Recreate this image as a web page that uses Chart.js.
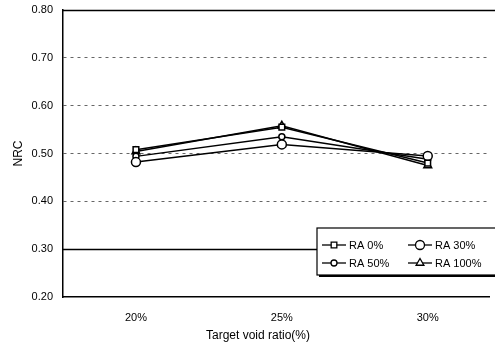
<!DOCTYPE html>
<html>
<head>
<meta charset="utf-8">
<script src="https://cdn.jsdelivr.net/npm/chart.js@4"></script>
<style>
  body { margin: 0; background: #fff; }
  #wrap { width: 495px; height: 345px; }
</style>
</head>
<body>
<div id="wrap"><canvas id="nrcChart" width="495" height="345"></canvas></div>
<script>
// target void ratio (%)
const voidRatios = [20, 25, 30];
const seriesLabels = ['RA 0%', 'RA 30%', 'RA 50%', 'RA 100%'];
const ra0 = [0.508, 0.555, 0.480];
const ra30 = [0.482, 0.519, 0.495];
const ra50 = [0.494, 0.535, 0.488];
const ra100 = [0.504, 0.558, 0.475];
const yTicks = [0.2, 0.3, 0.4, 0.5, 0.6, 0.7, 0.8];
const solidLines = [0.3, 0.8];

const FONT = '"Liberation Sans", Arial, sans-serif';
const styles = ['rect', 'circle', 'circle', 'triangle'];
const radii = [4, 4.5, 3, 4.5];

const toPoints = (vals) => vals.map((v, i) => ({ x: voidRatios[i], y: v }));

const datasets = [ra0, ra30, ra50, ra100].map((vals, i) => ({
  label: seriesLabels[i],
  data: toPoints(vals),
  borderColor: '#000',
  borderWidth: 1.5,
  backgroundColor: '#fff',
  pointStyle: styles[i],
  pointRadius: radii[i],
  pointBorderWidth: 1.5,
  pointBorderColor: '#000',
  pointBackgroundColor: '#fff',
  tension: 0,
}));

const roundTick = (c) => c.tick ? Math.round(c.tick.value * 100) / 100 : 0;

// solid reference lines (0.30 and top 0.80) under the data
const solidGrid = {
  id: 'solidGrid',
  beforeDatasetsDraw(chart) {
    const ctx = chart.ctx;
    const area = chart.chartArea;
    const y = chart.scales.y;
    ctx.save();
    ctx.strokeStyle = '#000';
    ctx.lineWidth = 1.3;
    solidLines.forEach((v) => {
      const py = Math.round(y.getPixelForValue(v)) + 0.5;
      ctx.beginPath();
      ctx.moveTo(area.left, py);
      ctx.lineTo(chart.width, py);
      ctx.stroke();
    });
    ctx.restore();
  }
};

// legend box and x title drawn by hand
const extras = {
  id: 'extras',
  afterDraw(chart) {
    const ctx = chart.ctx;
    ctx.save();
    ctx.fillStyle = '#000';
    ctx.font = '12px ' + FONT;
    ctx.textAlign = 'center';
    ctx.textBaseline = 'middle';
    ctx.fillText('Target void ratio(%)', 258, 336);

    const bx = 317, by = 228, bw = 180, bh = 47;
    ctx.fillStyle = '#000';
    ctx.fillRect(bx + 2, by + 2, bw, bh);
    ctx.fillStyle = '#fff';
    ctx.fillRect(bx, by, bw, bh);
    ctx.strokeStyle = '#000';
    ctx.lineWidth = 1.2;
    ctx.strokeRect(bx, by, bw, bh);

    ctx.font = '11px ' + FONT;
    ctx.textAlign = 'left';
    const pos = [[322, 245], [408, 245], [322, 263], [408, 263]];
    seriesLabels.forEach((lab, i) => {
      const [x, y] = pos[i];
      ctx.strokeStyle = '#000';
      ctx.lineWidth = 1.3;
      ctx.beginPath();
      ctx.moveTo(x, y);
      ctx.lineTo(x + 24, y);
      ctx.stroke();
      ctx.fillStyle = '#fff';
      Chart.helpers.drawPoint(ctx, { pointStyle: styles[i], radius: radii[i], rotation: 0, borderWidth: 1.3 }, x + 12, y);
      ctx.fillStyle = '#000';
      ctx.fillText(lab, x + 27, y + 1);
    });
    ctx.restore();
  }
};

Chart.defaults.font.family = FONT;

new Chart(document.getElementById('nrcChart'), {
  type: 'line',
  data: { datasets },
  plugins: [solidGrid, extras],
  options: {
    responsive: false,
    animation: false,
    layout: { padding: { top: 10, right: 3, left: 0, bottom: 0 } },
    plugins: {
      legend: { display: false },
      tooltip: { enabled: false },
    },
    scales: {
      x: {
        type: 'linear',
        min: 17.5,
        max: 32.1,
        afterBuildTicks: (axis) => { axis.ticks = voidRatios.map(v => ({ value: v })); },
        afterFit: (axis) => { axis.height = 48; axis.paddingLeft = 0; axis.paddingRight = 0; },
        ticks: {
          color: '#000',
          font: { size: 11, family: FONT },
          padding: 14,
          callback: (v) => v + '%',
        },
        grid: { display: false, drawTicks: false },
        border: { color: '#000', width: 1.5 },
      },
      y: {
        min: 0.2,
        max: 0.8,
        afterBuildTicks: (axis) => { axis.ticks = yTicks.map(v => ({ value: v })); },
        afterFit: (axis) => { axis.width = 63; axis.paddingTop = 0; axis.paddingBottom = 0; },
        ticks: {
          color: '#000',
          font: { size: 11, family: FONT },
          padding: 10,
          callback: (v) => v.toFixed(2),
        },
        title: {
          display: true,
          text: 'NRC',
          color: '#000',
          font: { size: 12, family: FONT },
          padding: { top: 11, bottom: 0 },
        },
        grid: {
          drawTicks: false,
          color: (c) => {
            const v = roundTick(c);
            if (v === 0.2 || solidLines.includes(v)) return 'rgba(0,0,0,0)';
            return '#666';
          },
          lineWidth: 1,
        },
        border: { color: '#000', width: 1.5, dash: [3, 4] },
      },
    },
  },
});
</script>
</body>
</html>
